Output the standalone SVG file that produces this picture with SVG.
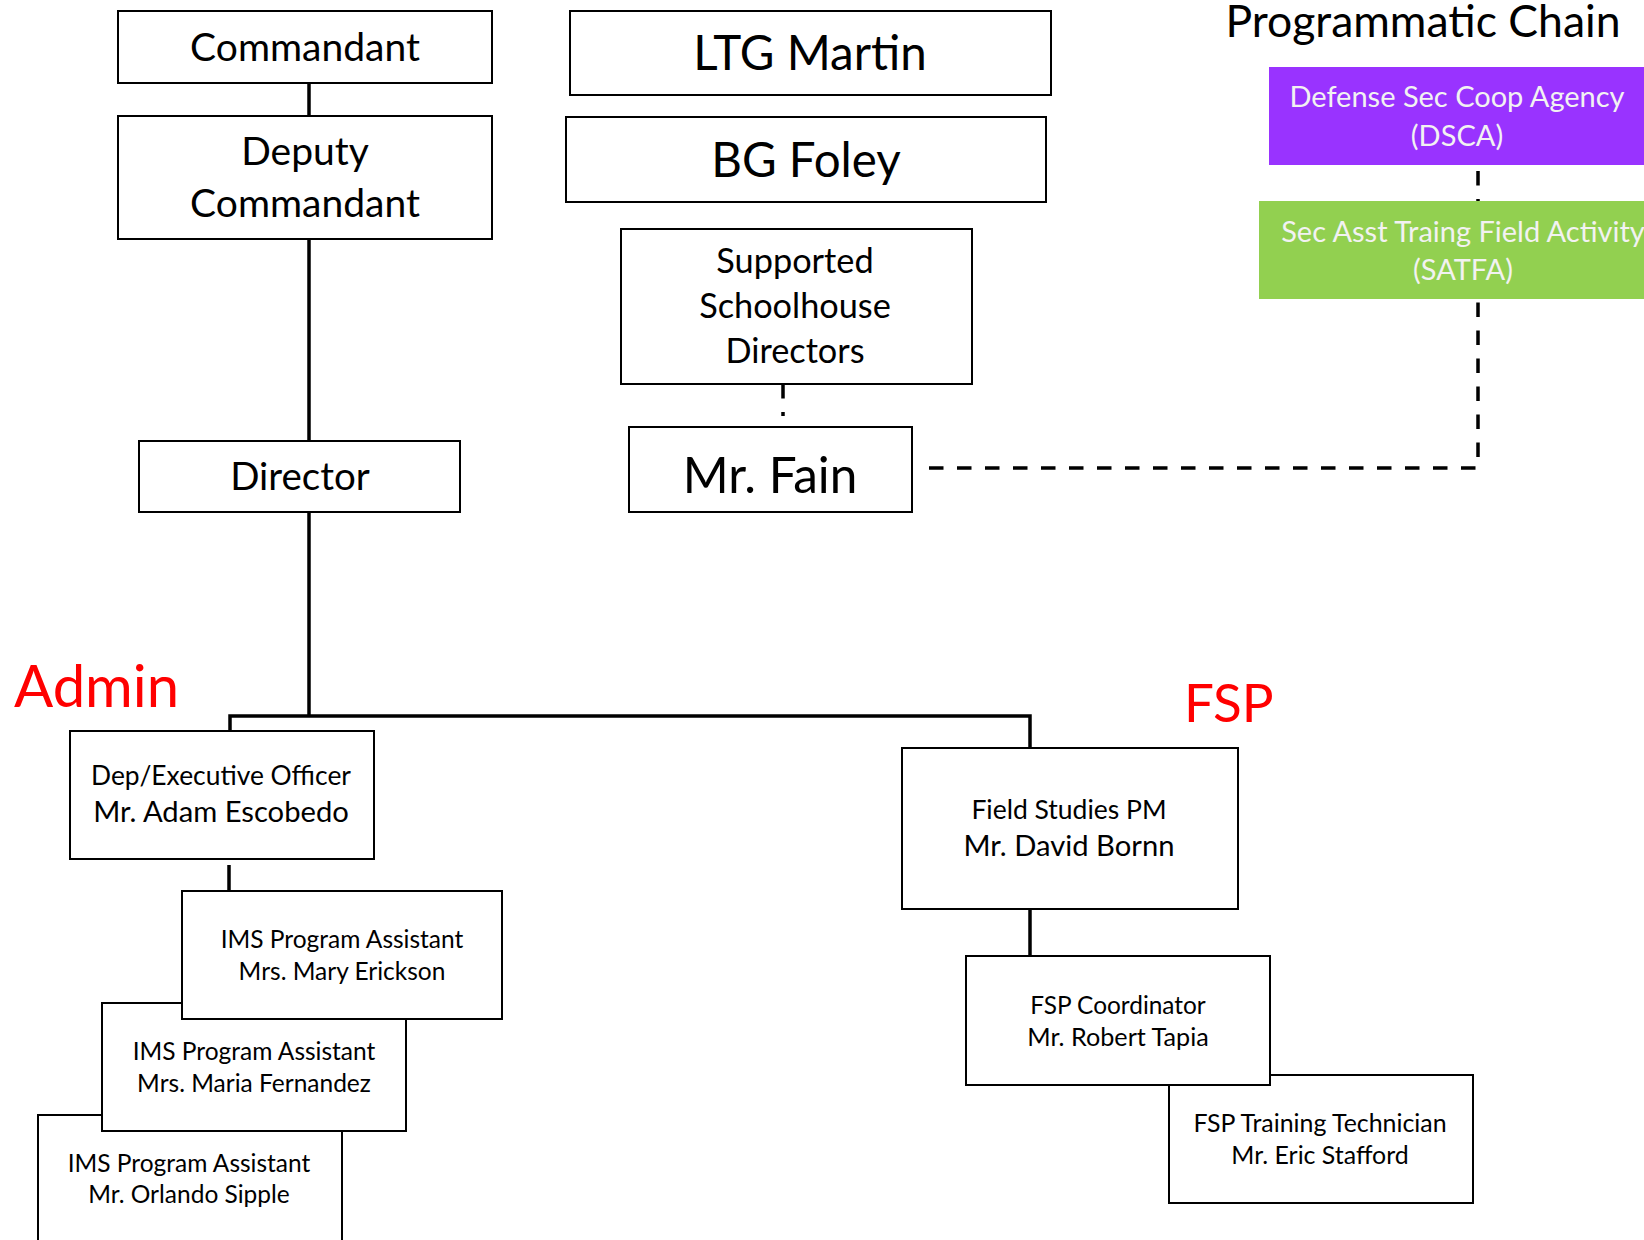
<svg xmlns="http://www.w3.org/2000/svg" width="1644" height="1240" viewBox="0 0 1644 1240">
<style>
.box{fill:#fff;stroke:#000;stroke-width:2}
.t{font-family:Lato,"Open Sans","Liberation Sans",sans-serif;fill:#000;text-anchor:middle}
.w{fill:#F2F2F2}
.red{font-family:Lato,"Open Sans","Liberation Sans",sans-serif;fill:#FF0000}
.solid{fill:none;stroke:#000;stroke-width:3.5}
.dash{fill:none;stroke:#000;stroke-width:3.5;stroke-dasharray:14.5 13.5}
</style>
<rect width="1644" height="1240" fill="#fff"/>
<g id="connectors">
<line class="solid" x1="309" y1="83" x2="309" y2="116"/>
<line class="solid" x1="309" y1="239" x2="309" y2="441"/>
<line class="solid" x1="309" y1="512" x2="309" y2="716"/>
<polyline class="solid" points="230,731 230,716 1030,716 1030,748"/>
<line class="solid" x1="229" y1="865" x2="229" y2="891"/>
<line class="solid" x1="1030" y1="909" x2="1030" y2="956"/>
<line class="dash" x1="783" y1="384" x2="783" y2="416" stroke-dasharray="4 12 18 20"/>
<polyline class="dash" points="929,468 1478,468 1478,299"/>
<line class="dash" x1="1478" y1="171" x2="1478" y2="201"/>
</g>
<g id="commandant"><rect class="box" x="118" y="11" width="374" height="72"/><text class="t" x="305" y="61" font-size="39">Commandant</text></g>
<g id="deputy"><rect class="box" x="118" y="116" width="374" height="123"/><text class="t" x="305" y="165" font-size="39">Deputy</text><text class="t" x="305" y="217" font-size="39">Commandant</text></g>
<g id="director"><rect class="box" x="139" y="441" width="321" height="71"/><text class="t" x="300" y="490" font-size="38.5">Director</text></g>
<g id="ltg"><rect class="box" x="570" y="11" width="481" height="84"/><text class="t" x="810" y="70" font-size="47.5">LTG Martin</text></g>
<g id="bg"><rect class="box" x="566" y="117" width="480" height="85"/><text class="t" x="806" y="177" font-size="47.5">BG Foley</text></g>
<g id="schoolhouse"><rect class="box" x="621" y="229" width="351" height="155"/><text class="t" x="795" y="273" font-size="34.3">Supported</text><text class="t" x="795" y="318" font-size="34.3">Schoolhouse</text><text class="t" x="795" y="363" font-size="34.3">Directors</text></g>
<g id="fain"><rect class="box" x="629" y="427" width="283" height="85"/><text class="t" x="770" y="493" font-size="49.5">Mr. Fain</text></g>
<text class="t" x="1423" y="37" font-size="44.5">Programmatic Chain</text>
<g id="dsca"><rect x="1269" y="67" width="380" height="98" fill="#9933FF"/><text class="t w" x="1457" y="107" font-size="29">Defense Sec Coop Agency</text><text class="t w" x="1457" y="146" font-size="29">(DSCA)</text></g>
<g id="satfa"><rect x="1259" y="201" width="390" height="98" fill="#92D050"/><text class="t w" x="1463" y="242" font-size="29">Sec Asst Traing Field Activity</text><text class="t w" x="1463" y="280" font-size="29">(SATFA)</text></g>
<text class="red" x="14" y="707" font-size="58">Admin</text>
<text class="red" x="1184" y="722" font-size="53">FSP</text>
<g id="depexec"><rect class="box" x="70" y="731" width="304" height="128"/><text class="t" x="221" y="785" font-size="26.4">Dep/Executive Officer</text><text class="t" x="221" y="822" font-size="29.2">Mr. Adam Escobedo</text></g>
<g id="ims3"><rect class="box" x="38" y="1115" width="304" height="140"/><text class="t" x="189" y="1172" font-size="24.5">IMS Program Assistant</text><text class="t" x="189" y="1203" font-size="24.5">Mr. Orlando Sipple</text></g>
<g id="ims2"><rect class="box" x="102" y="1003" width="304" height="128"/><text class="t" x="254" y="1060" font-size="24.5">IMS Program Assistant</text><text class="t" x="254" y="1092" font-size="24.5">Mrs. Maria Fernandez</text></g>
<g id="ims1"><rect class="box" x="182" y="891" width="320" height="128"/><text class="t" x="342" y="948" font-size="24.5">IMS Program Assistant</text><text class="t" x="342" y="980" font-size="24.5">Mrs. Mary Erickson</text></g>
<g id="fieldstudies"><rect class="box" x="902" y="748" width="336" height="161"/><text class="t" x="1069" y="819" font-size="26.5">Field Studies PM</text><text class="t" x="1069" y="856" font-size="29.2">Mr. David Bornn</text></g>
<g id="technician"><rect class="box" x="1169" y="1075" width="304" height="128"/><text class="t" x="1320" y="1132" font-size="24.9">FSP Training Technician</text><text class="t" x="1320" y="1164" font-size="24.9">Mr. Eric Stafford</text></g>
<g id="coordinator"><rect class="box" x="966" y="956" width="304" height="129"/><text class="t" x="1118" y="1014" font-size="24.4">FSP Coordinator</text><text class="t" x="1118" y="1046" font-size="25.2">Mr. Robert Tapia</text></g>
</svg>
